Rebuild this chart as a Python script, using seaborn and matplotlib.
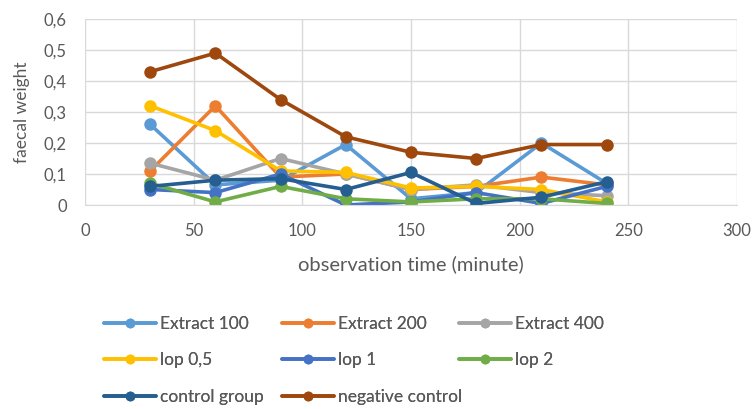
import matplotlib
matplotlib.use("Agg")
import matplotlib.pyplot as plt
import seaborn as sns
import pandas as pd
from matplotlib.ticker import FuncFormatter
from matplotlib.lines import Line2D

times = [30, 60, 90, 120, 150, 180, 210, 240]
series_names = ["Extract 100", "Extract 200", "Extract 400", "lop 0,5", "lop 1", "lop 2",
                "control group", "negative control"]
extract_100 = [0.26, 0.065, 0.08, 0.195, 0.02, 0.04, 0.20, 0.07]
extract_200 = [0.11, 0.32, 0.09, 0.10, 0.05, 0.06, 0.09, 0.065]
extract_400 = [0.135, 0.08, 0.15, 0.10, 0.05, 0.065, 0.04, 0.03]
lop_05 = [0.32, 0.24, 0.11, 0.105, 0.055, 0.06, 0.05, 0.01]
lop_1 = [0.05, 0.04, 0.10, 0.0, 0.01, 0.04, 0.005, 0.06]
lop_2 = [0.07, 0.01, 0.06, 0.02, 0.01, 0.02, 0.02, 0.005]
control_group = [0.06, 0.08, 0.085, 0.05, 0.105, 0.005, 0.025, 0.075]
negative_control = [0.43, 0.49, 0.34, 0.22, 0.17, 0.15, 0.195, 0.195]
values = [extract_100, extract_200, extract_400, lop_05, lop_1, lop_2, control_group, negative_control]
colors = ["#5B9BD5", "#ED7D31", "#A5A5A5", "#FFC000", "#4472C4", "#70AD47", "#255E91", "#9E480E"]

rows = []
for name, vals in zip(series_names, values):
    for t, v in zip(times, vals):
        rows.append({"time": t, "value": v, "series": name})
df = pd.DataFrame(rows)

sns.set_style("white")
plt.rcParams['font.family'] = ['Lato', 'DejaVu Sans']

fig = plt.figure(figsize=(7.53, 4.09), dpi=100)
ax = fig.add_axes([85/753, 1-205/409, (737-85)/753, (205-19)/409])

sns.lineplot(data=df, x="time", y="value", hue="series", hue_order=series_names,
             palette=colors, marker="o", markersize=9, markeredgewidth=0,
             linewidth=2.6, ax=ax, legend=False)

ax.set_xlim(0, 300)
ax.set_ylim(0, 0.6)
ax.set_xticks([0, 50, 100, 150, 200, 250, 300])
ax.set_yticks([0, 0.1, 0.2, 0.3, 0.4, 0.5, 0.6])
ax.yaxis.set_major_formatter(FuncFormatter(lambda v, p: "0" if abs(v) < 1e-9 else f"{v:.1f}".replace(".", ",")))
ax.grid(True, color="#D9D9D9", linewidth=1)
ax.set_axisbelow(True)
for s in ["top", "right", "left"]:
    ax.spines[s].set_visible(False)
ax.spines["bottom"].set_color("#D9D9D9")
ax.tick_params(axis="both", length=0, labelsize=12, labelcolor="#595959")
ax.tick_params(axis="x", pad=13)
ax.tick_params(axis="y", pad=13)
ax.set_xlabel("observation time (minute)", fontsize=14.5, color="#595959", labelpad=12)
ax.set_ylabel("faecal weight", fontsize=12.5, color="#595959", labelpad=10)

# legend: three columns at fixed positions, rows filled left to right
col_x = [104, 282, 459]
for c in range(3):
    idx = [i for i in range(len(series_names)) if i % 3 == c]
    hs = [Line2D([], [], color=colors[i], linewidth=2.6, marker="o", markersize=7,
                 markeredgewidth=0) for i in idx]
    leg = fig.legend(hs, [series_names[i] for i in idx],
                     loc="upper left", bbox_to_anchor=(col_x[c]/753, 1-316/409),
                     frameon=False, fontsize=12.5, labelcolor="#595959",
                     handlelength=3.0, handletextpad=0.2, labelspacing=1.18,
                     borderaxespad=0, borderpad=0)
    fig.add_artist(leg)

fig.savefig("out.png", dpi=100)
